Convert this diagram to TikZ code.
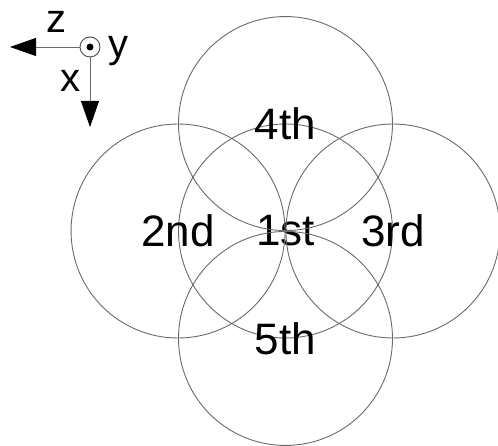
\documentclass[tikz,border=0pt]{standalone}
\usepackage{fontspec}
\setmainfont{Liberation Sans}
\usepackage{tikz}
\usetikzlibrary{positioning,arrows.meta}
\definecolor{rim}{HTML}{6A6A6A}

\begin{document}
\begin{tikzpicture}[
    x=1pt, y=-1pt,
    ring/.style={draw=rim, line width=0.9pt, circle, minimum size=214pt, inner sep=0pt,
                 font=\fontsize{44}{48}\selectfont},
    axis/.style={-{Triangle[length=26pt, width=18pt, color=black]}, draw=rim, line width=0.9pt},
    axlabel/.style={font=\fontsize{40}{44}\selectfont, inner sep=0pt}
  ]
    \useasboundingbox (0,0) rectangle (498,446);

    % five overlapping rings
    \node[ring] (first) at (285.5,231) {1st};
    \node[ring] (second) at (first.west) {2nd};
    \node[ring] (third) at (first.east) {3rd};
    \node[ring] (fourth) at (first.north) {4th};
    \node[ring] (fifth) at (first.south) {5th};

    % axes
    \node[circle, draw=black!70, line width=0.9pt, minimum size=20pt, inner sep=0pt] (origin) at (90,47) {};
    \node[circle, fill=black, minimum size=7pt, inner sep=0pt] (dot) at (origin) {};
    \coordinate (ztip) at (10,47);
    \coordinate (xtip) at (90,127);
    \draw[axis] (origin.west) -- (ztip);
    \draw[axis] (origin.south) -- (xtip);
    \node[axlabel] (zlab) at (56,22) {z};
    \node[axlabel] (ylab) at (118,51) {y};
    \node[axlabel] (xlab) at (70,81) {x};
  \end{tikzpicture}
\end{document}
